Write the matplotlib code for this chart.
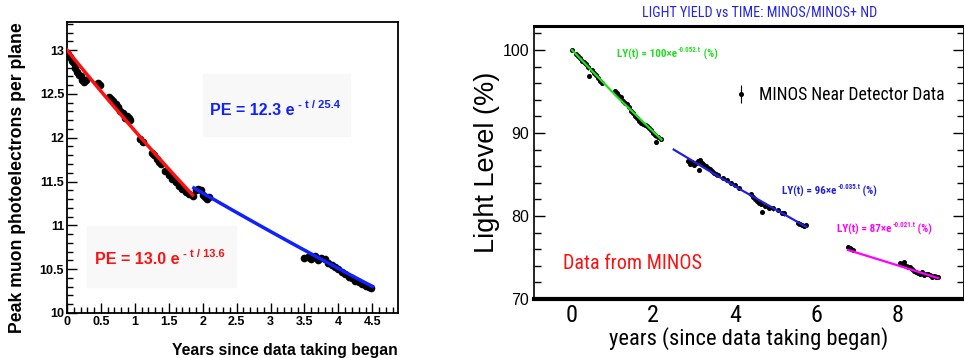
import os
import numpy as np
import matplotlib
matplotlib.use('Agg')
import matplotlib.pyplot as plt
from matplotlib import font_manager
from matplotlib.font_manager import FontProperties
from matplotlib.patches import Rectangle
from matplotlib.ticker import MultipleLocator

ARIAL = ['Liberation Sans', 'DejaVu Sans']

# ---- left panel: peak muon photoelectrons per plane ----
pe_t = [0.02, 0.05, 0.08, 0.10, 0.12, 0.15, 0.18, 0.20, 0.22, 0.25, 0.28,
        0.45, 0.48, 0.62, 0.65, 0.68, 0.72, 0.75, 0.78, 0.82, 0.85, 0.88,
        0.92, 0.93, 1.08, 1.12, 1.25, 1.28, 1.32, 1.35, 1.38, 1.45, 1.50,
        1.55, 1.60, 1.65, 1.70, 1.75, 1.80, 1.85, 1.90, 1.93, 1.97, 2.00,
        2.03, 2.07, 2.10, 3.50, 3.55, 3.60, 3.65, 3.70, 3.75, 3.80, 3.85,
        3.90, 3.95, 4.00, 4.05, 4.10, 4.15, 4.20, 4.25, 4.30, 4.35, 4.40,
        4.45, 4.48]
pe_val = [12.95, 12.92, 12.88, 12.85, 12.80, 12.75, 12.72, 12.70, 12.66, 12.64, 12.66,
          12.62, 12.60, 12.47, 12.44, 12.42, 12.38, 12.35, 12.31, 12.28, 12.22, 12.25,
          12.22, 12.20, 11.98, 11.95, 11.83, 11.80, 11.76, 11.72, 11.70, 11.62, 11.57,
          11.53, 11.50, 11.45, 11.42, 11.38, 11.36, 11.34, 11.40, 11.42, 11.40, 11.35,
          11.32, 11.30, 11.32, 10.63, 10.64, 10.62, 10.65, 10.60, 10.63, 10.62, 10.57,
          10.55, 10.52, 10.50, 10.47, 10.44, 10.41, 10.40, 10.37, 10.35, 10.33, 10.31,
          10.30, 10.28]

# fits written on the chart: PE = A exp(-t / tau)
pe_fit_amp = [13.0, 12.3]
pe_fit_tau = [13.6, 25.4]
pe_fit_range = [(0.0, 1.85), (1.87, 4.5)]
pe_fit_color = ['#ff1010', '#1020ff']

# ---- right panel: light yield vs time ----
ly_t = [0.00, 0.10, 0.15, 0.20, 0.25, 0.30, 0.35, 0.40, 0.42, 0.50, 0.55, 0.60,
        0.65, 0.70, 0.75, 1.05, 1.10, 1.15, 1.20, 1.25, 1.30, 1.35, 1.40, 1.45,
        1.50, 1.55, 1.60, 1.65, 1.70, 1.75, 1.80, 1.85, 1.90, 1.95, 2.00, 2.05,
        2.07, 2.12, 2.20,
        2.85, 2.90, 2.95, 3.00, 3.05, 3.10, 3.13, 3.15, 3.20, 3.25, 3.30, 3.35,
        3.40, 3.45, 3.50, 3.55, 3.60, 3.70, 3.80, 3.90, 4.00, 4.10, 4.40, 4.45,
        4.50, 4.55, 4.60, 4.65, 4.68, 4.75, 4.85, 4.95, 5.05, 5.15, 5.20, 5.55,
        5.60, 5.65, 5.70, 5.75,
        6.78, 6.82, 6.86, 6.90, 8.05, 8.10, 8.15, 8.20, 8.25, 8.30, 8.35, 8.40,
        8.45, 8.50, 8.55, 8.60, 8.65, 8.70, 8.75, 8.80, 8.85, 8.90, 8.95, 9.00]
ly_val = [100.0, 99.5, 99.3, 99.0, 98.7, 98.5, 98.3, 97.9, 96.9, 97.6, 97.2, 97.0,
          96.6, 96.3, 96.0, 95.1, 94.8, 94.4, 94.3, 93.9, 93.6, 93.5, 93.1, 92.6,
          92.4, 92.1, 91.8, 91.4, 91.2, 91.1, 91.0, 90.9, 90.6, 90.3, 90.0, 89.7,
          88.9, 89.5, 89.3,
          86.6, 86.3, 86.5, 86.2, 86.4, 86.6, 85.5, 86.7, 86.4, 86.2, 86.0, 85.8,
          85.6, 85.4, 85.2, 85.0, 84.9, 84.6, 84.3, 84.0, 83.7, 83.4, 82.6, 82.3,
          82.0, 81.8, 81.6, 81.5, 80.5, 81.2, 81.0, 80.9, 80.7, 80.4, 80.3, 79.1,
          79.0, 78.9, 78.8, 78.9,
          76.2, 76.1, 76.0, 75.9, 74.3, 74.2, 74.4, 74.0, 73.9, 73.8, 73.6, 73.4,
          73.2, 73.1, 73.0, 73.2, 72.9, 73.0, 73.0, 72.9, 72.7, 72.8, 72.7, 72.6]

# fit lines as drawn (start, middle, end)
ly_fit_t = [[0.0, 1.1, 2.2], [2.5, 4.1, 5.75], [6.78, 7.9, 9.0]]
ly_fit_v = [[100.0, 94.4, 89.2], [88.0, 83.3, 78.7], [75.9, 74.2, 72.5]]
ly_fit_color = ['#22dd22', '#2020dd', '#ff00ff']
ly_fit_amp = ['100', '96', '87']
ly_fit_k = ['0.052', '0.035', '0.021']
ly_fit_pos = [(0.193, 0.883), (0.577, 0.381), (0.705, 0.242)]


def pick_narrow(bold):
    # look for an installed narrow / condensed sans face
    prefs = ['Liberation Sans Narrow', 'Arial Narrow', 'Roboto Condensed', 'Noto Sans',
             'Open Sans', 'DejaVu Sans', 'Roboto', 'Lato', 'Inter']
    best, best_rank = None, 99
    for f in font_manager.fontManager.ttflist:
        tag = os.path.basename(f.fname) + ' ' + f.name
        if f.style != 'normal':
            continue
        narrow = ('Narrow' in tag or 'Condensed' in tag
                  or str(f.stretch) in ('condensed', 'semi-condensed'))
        if not narrow or 'Extra' in tag or 'Ultra' in tag or 'Semi' in tag:
            continue
        w = f.weight if isinstance(f.weight, int) else {'bold': 700}.get(f.weight, 400)
        if (w == 700) != bold or w not in (400, 700):
            continue
        rank = next((i for i, p in enumerate(prefs) if f.name.startswith(p)), 50)
        if rank < best_rank:
            best, best_rank = f, rank
    return best.fname if best else None


NARROW_R = pick_narrow(False)
NARROW_B = pick_narrow(True)


def nfont(size, bold=False):
    path = NARROW_B if bold else NARROW_R
    if path:
        return FontProperties(fname=path, size=size)
    return FontProperties(family=ARIAL, size=size * 0.85,
                          weight='bold' if bold else 'normal')


def exp_label(ax, x, y, main, sup, end, color, fp, fp_sup):
    t1 = ax.text(x, y, main, transform=ax.transAxes, color=color, fontproperties=fp,
                 ha='left', va='baseline')
    t2 = ax.annotate(sup, xy=(1, 0.55), xycoords=t1, color=color, fontproperties=fp_sup,
                     ha='left', va='bottom', xytext=(0.5, 0), textcoords='offset points')
    if end:
        ax.annotate(end, xy=(1, 0), xycoords=(t2, t1), color=color, fontproperties=fp,
                    ha='left', va='bottom')


fig = plt.figure(figsize=(9.64, 3.58), dpi=100)

# ================= left =================
ax1 = fig.add_axes([0.0695, 0.1257, 0.3435, 0.8128])
ax1.add_patch(Rectangle((0.41, 0.61), 0.445, 0.21, transform=ax1.transAxes,
                        color='#f8f8f8', zorder=0))
ax1.add_patch(Rectangle((0.06, 0.09), 0.45, 0.21, transform=ax1.transAxes,
                        color='#f8f8f8', zorder=0))
ax1.plot(pe_t, pe_val, 'o', color='black', ms=4.5, zorder=2)
for amp, tau, (t0, t1), col in zip(pe_fit_amp, pe_fit_tau, pe_fit_range, pe_fit_color):
    tt = np.linspace(t0, t1, 60)
    ax1.plot(tt, amp * np.exp(-tt / tau), color=col, lw=2.5, zorder=3)

ax1.set_xlim(0, 4.88)
ax1.set_ylim(10, 13.32)
ax1.xaxis.set_major_locator(MultipleLocator(0.5))
ax1.xaxis.set_minor_locator(MultipleLocator(0.1))
ax1.yaxis.set_major_locator(MultipleLocator(0.5))
ax1.yaxis.set_minor_locator(MultipleLocator(0.1))
ax1.tick_params(which='both', direction='in', top=False, right=False, width=1)
ax1.tick_params(which='major', length=7, labelsize=9, pad=2)
ax1.tick_params(which='minor', length=4)
ax1.xaxis.set_major_formatter(plt.FuncFormatter(lambda v, p: f'{v:g}'))
ax1.yaxis.set_major_formatter(plt.FuncFormatter(lambda v, p: f'{v:g}'))
for lab in ax1.get_xticklabels() + ax1.get_yticklabels():
    lab.set_fontweight('bold')
    lab.set_family(ARIAL)
for sp in ax1.spines.values():
    sp.set_linewidth(1.3)
fig.text(0.018, 1 - 22 / 358, 'Peak muon photoelectrons per plane', fontsize=12.7,
         fontweight='bold', family=ARIAL, rotation=90, ha='center', va='top')
ax1.set_xlabel('Years since data taking began', fontsize=11.3, fontweight='bold',
               family=ARIAL, loc='right', labelpad=11)

exp_label(ax1, 0.432, 0.68, 'PE = 12.3 e', ' - t / 25.4', None, pe_fit_color[1],
          FontProperties(family=ARIAL, weight='bold', size=11.5),
          FontProperties(family=ARIAL, weight='bold', size=8))
exp_label(ax1, 0.085, 0.168, 'PE = 13.0 e', ' - t / 13.6', None, pe_fit_color[0],
          FontProperties(family=ARIAL, weight='bold', size=11.5),
          FontProperties(family=ARIAL, weight='bold', size=8))

# ================= right =================
ax2 = fig.add_axes([0.554, 0.165, 0.446, 0.7625])
ax2.errorbar(ly_t, ly_val, yerr=0.25, fmt='o', color='black', ms=2.6, elinewidth=0.8,
             capsize=0, label='MINOS Near Detector Data', zorder=2)
for tt, vv, col in zip(ly_fit_t, ly_fit_v, ly_fit_color):
    ax2.plot(tt, vv, color=col, lw=1.6, zorder=3)

ax2.set_xlim(-0.93, 9.63)
ax2.set_ylim(70, 102.9)
ax2.set_xticks([0, 2, 4, 6, 8])
ax2.yaxis.set_major_locator(MultipleLocator(10))
ax2.yaxis.set_minor_locator(MultipleLocator(2))
ax2.tick_params(axis='x', length=0, pad=4)
ax2.tick_params(axis='y', which='both', direction='in', right=True, labelsize=11.5)
ax2.tick_params(axis='y', which='major', length=8, width=1)
ax2.tick_params(axis='y', which='minor', length=5, width=1)
for lab in ax2.get_xticklabels():
    lab.set_fontproperties(nfont(17.5))
for lab in ax2.get_yticklabels():
    lab.set_family(ARIAL)
ax2.spines['left'].set_linewidth(1.2)
ax2.spines['top'].set_linewidth(2.2)
ax2.spines['bottom'].set_linewidth(3)
ax2.spines['right'].set_linewidth(2)

ax2.set_ylabel('Light Level (%)', fontsize=19.5, family=ARIAL, labelpad=2)
ax2.set_xlabel('years (since data taking began)', fontproperties=nfont(16.2), labelpad=0)
fig.text(0.788, 0.966, 'LIGHT YIELD vs TIME: MINOS/MINOS+ ND', color='#2222ee',
         fontproperties=nfont(10.2), ha='center', va='center')

for amp, k, (x, y), col in zip(ly_fit_amp, ly_fit_k, ly_fit_pos, ly_fit_color):
    exp_label(ax2, x, y, f'LY(t) = {amp}\u00d7e', f'-{k}.t', ' (%)', col,
              nfont(8, True), nfont(5, True))

ax2.text(0.067, 0.11, 'Data from MINOS', transform=ax2.transAxes, color='#ff1010',
         fontproperties=nfont(14.5), ha='left', va='baseline')

ax2.legend(loc='center left', bbox_to_anchor=(0.42, 0.747), frameon=False,
           prop=nfont(12.7), handlelength=1.2, handletextpad=0.4)

fig.savefig('out.png', dpi=100)
